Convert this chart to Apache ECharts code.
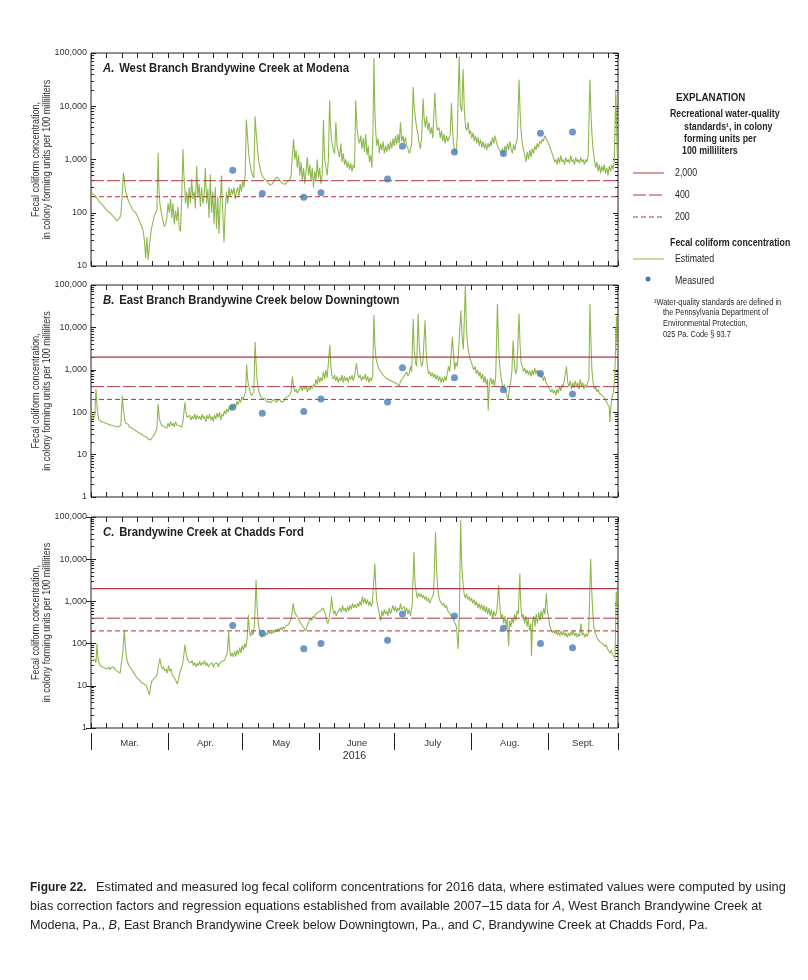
<!DOCTYPE html>
<html><head><meta charset="utf-8">
<script src="https://cdn.jsdelivr.net/npm/echarts@6/dist/echarts.min.js"></script>
<style>html,body{margin:0;padding:0;background:#fff}#c{width:808px;height:980px}</style>
</head><body><div id="c"></div>
<script>
// ---------------- DATA ----------------
// x values are days since 1 March 2016
const monthNames = ['Mar.', 'Apr.', 'May', 'June', 'July', 'Aug.', 'Sept.'];
const monthStartDays = [0, 31, 61, 92, 122, 153, 184];
const monthLengths = [31, 30, 31, 30, 31, 31, 30];
const axisEndDay = 212;
const yearLabel = '2016';
const yTickValues = [1, 10, 100, 1000, 10000, 100000];
const panelLetters = ['A.', 'B.', 'C.'];
const panelTitles = ['West Branch Brandywine Creek at Modena', 'East Branch Brandywine Creek below Downingtown', 'Brandywine Creek at Chadds Ford'];
const yMinValues = [10, 1, 1];
const yMaxValue = 100000;
const standardsA = [400, 200];
const standardsB = [2000, 400, 200];
const standardsC = [2000, 400, 200];
const measuredDays = [57, 68.9, 85.6, 92.5, 119.3, 125.3, 146.2, 165.9, 180.8, 193.7];
const measuredA = [630, 230, 195, 237, 430, 1780, 1380, 1290, 3100, 3300];
const measuredB = [130, 95, 104, 205, 175, 1120, 650, 340, 820, 270];
const measuredC = [270, 175, 75, 100, 120, 500, 450, 230, 100, 80];

const estimatedA = [
[0,260],[0.5,230],[1,245],[1.5,210],[2,200],[2.5,185],[3,175],[3.5,160],[4,150],[4.5,140],[5,145],[5.5,125],[6,120],[6.5,110],[7,115],[7.5,100],[8,95],[8.5,90],[9,85],[9.5,80],[10,75],[10.5,70],[11,68],[11.5,80],[12,90],[12.5,200],[13,560],[13.3,480],[13.7,300],[14,250],[14.5,200],[15,170],[15.5,150],[16,140],[16.5,120],[17,110],[17.5,115],[18,100],[18.5,90],[19,80],[19.5,70],[20,60],[20.5,55],[21,45],[21.5,30],[22,14],[22.5,35],[23,13],[23.5,25],[24,40],[24.5,55],[25,70],[25.5,90],[26,100],[26.5,110],[27,1330],[27.3,300],[27.7,150],[28,120],[28.5,90],[29,70],[29.5,55],[30,60],[30.5,80],[31,150],[31.5,100],[32,180],[32.5,80],[33,150],[33.5,60],[34,110],[34.5,70],[35,130],[35.5,50],[36,45],[36.5,200],[37,1550],[37.3,600],[37.7,300],[38,150],[38.5,250],[39,120],[39.5,300],[40,150],[40.5,430],[41,180],[41.5,250],[42,120],[42.5,750],[43,200],[43.5,350],[44,130],[44.5,300],[45,150],[45.5,200],[46,700],[46.5,150],[47,280],[47.5,80],[48,520],[48.5,100],[49,250],[49.5,60],[50,300],[50.5,50],[51,200],[51.5,40],[52,150],[52.5,500],[53,100],[53.5,28],[54,120],[54.5,250],[55,150],[55.5,300],[56,200],[56.5,280],[57,220],[57.5,300],[58,180],[58.5,250],[59,300],[59.5,200],[60,350],[60.5,250],[61,400],[61.5,300],[62,500],[62.5,5600],[63,2500],[63.5,1200],[64,800],[64.5,600],[65,500],[65.5,450],[66,6500],[66.5,3000],[67,1500],[67.5,900],[68,700],[68.5,550],[69,480],[70,420],[71,380],[72,330],[73,350],[74,430],[75,470],[76,400],[77,360],[78,340],[79,380],[80,420],[80.5,500],[81,1200],[81.5,2400],[82,1000],[82.5,1500],[83,700],[83.5,1200],[84,500],[84.5,900],[85,400],[85.5,700],[86,350],[86.5,600],[87,1100],[87.5,500],[88,800],[88.5,400],[89,700],[89.5,300],[90,600],[90.5,400],[91,1000],[91.5,450],[92,700],[92.5,350],[93,500],[93.5,5500],[94,1000],[94.5,700],[95,500],[95.5,1000],[96,13000],[96.3,5000],[96.7,2500],[97,2000],[97.5,1500],[98,1300],[98.5,5000],[99,1800],[99.5,1400],[100,1100],[100.5,2000],[101,900],[101.5,1300],[102,800],[102.5,1000],[103,700],[103.5,900],[104,650],[104.5,850],[105,600],[105.5,800],[106,700],[106.5,13000],[107,4000],[107.5,2500],[108,2000],[108.5,2800],[109,1600],[109.5,2500],[110,1400],[110.5,3000],[111,1200],[111.5,1800],[112,900],[112.5,1200],[113,700],[113.5,5000],[113.8,80000],[114.2,8000],[114.6,3000],[115,1800],[115.5,2500],[116,1300],[116.5,2000],[117,1500],[117.5,2200],[118,1300],[118.5,1800],[119,1400],[119.5,2000],[120,1500],[120.5,2200],[121,1600],[121.5,2500],[122,1800],[122.5,2800],[123,1900],[123.5,3000],[124,2000],[124.5,5000],[125,2200],[125.5,2800],[126,2000],[126.5,2600],[127,1800],[127.5,1600],[128,1300],[128.5,1500],[129,2000],[129.6,23000],[130,10000],[130.5,6000],[131,4000],[131.5,3000],[132,2000],[132.5,1600],[133,2500],[133.6,14000],[134,6000],[134.5,4000],[135,6500],[135.5,3500],[136,5000],[136.5,3000],[137,4000],[137.5,2500],[138.3,18000],[138.8,6000],[139.3,3500],[140,4000],[140.5,2500],[141,3500],[141.5,2200],[142,3000],[142.5,2000],[143,2800],[143.5,2200],[144,2500],[144.5,3000],[145,11500],[145.4,4000],[145.8,2000],[146.3,1500],[146.8,1300],[147.3,2500],[148.1,86000],[148.6,10000],[149.2,8000],[149.7,50000],[150.2,8000],[150.7,4000],[151.2,3500],[151.7,5000],[152.2,3000],[152.7,3500],[153.2,2500],[153.7,3200],[154.2,2200],[154.7,2800],[155.2,2000],[155.7,2600],[156.2,1800],[156.7,2400],[157.2,1700],[157.7,2200],[158.2,1600],[158.7,2000],[159.2,1500],[159.7,2000],[160.2,1700],[160.7,2200],[161,1800],[161.5,2600],[162,2000],[162.5,2800],[163,2200],[163.5,1800],[165,1300],[165.5,1600],[166,1200],[166.5,1800],[167,1400],[167.5,2000],[168,1500],[168.5,2200],[169,1600],[169.5,1300],[170,1900],[170.5,1500],[171,2000],[171.5,2500],[172.2,31600],[172.6,8000],[173,3500],[173.5,2000],[174,1500],[174.5,1200],[175,900],[175.5,1400],[176,1000],[176.5,1500],[177,1100],[177.5,1600],[178,1300],[178.5,1800],[179,1500],[179.5,2000],[180,1700],[180.5,2200],[181,2000],[181.5,2400],[182,2200],[182.5,2800],[183,2500],[183.5,2300],[184,2000],[184.5,1800],[185,1500],[185.5,1300],[186,1100],[186.5,900],[187,1000],[187.5,800],[188,1100],[188.5,850],[189,1200],[189.5,900],[190,1000],[190.5,800],[191,1100],[191.5,900],[192,1000],[192.5,850],[193,1200],[193.5,900],[194,1000],[194.5,800],[195,1100],[195.5,900],[196,1000],[196.5,850],[197,1100],[197.5,900],[198,1000],[198.5,800],[199,1000],[199.5,900],[200,1200],[200.7,31600],[201.1,8000],[201.5,3000],[202,1500],[202.5,1000],[203,700],[203.5,900],[204,600],[204.5,800],[205,550],[205.5,750],[206,600],[206.5,800],[207,550],[207.5,700],[208,500],[208.5,750],[209,600],[209.5,800],[210,650],[210.5,900],[211.1,20000],[211.7,1200]
];

const estimatedB = [
[0,100],[0.5,80],[1,70],[1.5,80],[2,350],[2.5,120],[3,70],[3.5,65],[4,60],[4.5,62],[5,58],[5.5,60],[6,55],[6.5,57],[7,52],[7.5,55],[8,50],[8.5,52],[9,48],[9.5,50],[10,46],[10.5,48],[11,45],[11.5,44],[12,50],[12.6,245],[13,120],[13.5,70],[14,55],[14.5,50],[15,52],[15.5,45],[16,47],[16.5,42],[17,44],[17.5,38],[18,40],[18.5,35],[19,36],[19.5,32],[20,33],[20.5,30],[21,28],[21.5,27],[22,25],[22.5,26],[23,23],[23.5,24],[24,22],[24.5,25],[25,27],[25.5,30],[26,33],[26.5,40],[27,155],[27.4,80],[27.8,60],[28.3,50],[29,55],[29.5,45],[30,50],[30.5,42],[31,55],[31.5,45],[32,60],[32.5,48],[33,55],[33.5,45],[34,60],[34.5,50],[35,55],[35.5,48],[36,52],[36.5,45],[37,60],[37.8,170],[38.2,100],[38.7,75],[39.2,70],[39.7,85],[40.2,65],[40.7,80],[41.2,70],[41.7,90],[42.2,65],[42.7,85],[43.2,70],[43.7,80],[44.2,65],[44.7,90],[45.2,70],[45.7,80],[46.2,60],[46.7,85],[47.2,70],[47.7,90],[48.2,65],[48.7,80],[49.2,60],[49.7,85],[50.2,70],[50.7,95],[51.2,75],[51.7,100],[52.2,65],[52.7,90],[53.2,80],[53.7,110],[54.2,90],[54.7,120],[55.2,100],[55.7,140],[56.2,110],[56.7,150],[57.2,120],[57.7,160],[58.2,130],[58.7,180],[59.2,150],[59.7,200],[60.2,170],[60.7,230],[61.2,200],[61.7,250],[62.2,300],[62.6,1330],[63,600],[63.5,400],[64,300],[64.5,250],[65,270],[65.5,300],[66,4600],[66.4,1500],[66.8,600],[67.3,350],[68,250],[68.5,220],[69,200],[70,210],[70.5,180],[71,200],[71.5,175],[72,195],[72.5,170],[73,190],[73.5,175],[74,200],[74.5,170],[75,190],[75.5,180],[76,200],[76.5,175],[77,195],[77.5,180],[78,210],[78.5,190],[79,230],[79.5,210],[80,260],[80.5,300],[81,700],[81.5,400],[82,300],[82.5,350],[83,280],[83.5,330],[84,300],[84.5,380],[85,320],[85.5,400],[86,350],[86.5,420],[87,300],[87.5,380],[88,330],[88.5,420],[89,360],[89.5,450],[90,400],[90.5,600],[91,450],[91.5,700],[92,500],[92.5,650],[93,550],[93.5,900],[94,600],[94.5,1000],[95,650],[95.5,700],[96.1,3900],[96.5,1200],[97,700],[97.5,600],[98,750],[98.5,550],[99,700],[99.5,500],[100,650],[100.5,550],[101,750],[101.5,500],[102,700],[102.5,550],[103,650],[103.5,500],[104,700],[104.5,600],[105,750],[105.5,550],[106,700],[106.8,1450],[107.3,800],[107.8,650],[108.3,750],[108.8,550],[109.3,700],[109.8,600],[110.3,800],[110.8,550],[111.3,700],[111.8,500],[112.3,650],[112.8,550],[113.3,700],[113.8,19500],[114.2,4000],[114.6,2000],[115,1500],[115.5,1200],[116,1000],[116.5,900],[117,850],[117.5,750],[118,800],[118.5,650],[119,700],[119.5,600],[123.5,450],[124,400],[124.5,550],[125,500],[125.5,650],[126,600],[126.5,800],[127,900],[127.5,700],[128,800],[128.5,1200],[129,900],[129.6,16000],[130,3000],[130.5,1500],[131,1200],[131.6,21000],[132,4000],[132.5,1800],[133,1200],[133.5,1500],[134.4,14800],[134.8,3000],[135.3,1200],[135.8,800],[136.3,900],[136.8,700],[137.3,850],[137.8,650],[138.3,800],[138.8,600],[139.3,750],[139.8,550],[140.3,700],[140.8,500],[141.3,650],[141.8,500],[142.3,700],[142.8,550],[143.3,800],[143.8,1200],[144.3,900],[144.8,2000],[145.4,6000],[145.8,2500],[146.3,1000],[146.8,1500],[147.3,1200],[147.8,2500],[148.8,25000],[149.3,6000],[149.8,3000],[150.6,100000],[151,10000],[151.5,4000],[152,2500],[152.5,1800],[153,1500],[153.5,1200],[154,1000],[154.5,1200],[155,800],[155.5,1000],[156,700],[156.5,900],[157,600],[157.5,800],[158,500],[158.5,700],[159,450],[159.5,600],[159.8,110],[160.3,500],[160.8,650],[161.3,450],[161.8,600],[162.3,400],[162.8,700],[163.5,36000],[163.9,5000],[164.3,1500],[164.8,800],[165.3,500],[165.8,350],[166.3,450],[166.8,300],[167.3,250],[167.8,200],[168.3,350],[168.8,500],[169.3,900],[169.8,5000],[170.3,1500],[170.8,800],[171.3,1000],[171.8,900],[172.2,21000],[172.6,4000],[173,1500],[173.5,1200],[174,900],[174.5,1100],[175,800],[175.5,1000],[176,750],[176.5,950],[177,700],[177.5,1000],[178,750],[178.5,1100],[179,800],[179.5,1000],[180,700],[180.5,900],[181,650],[181.5,800],[182,550],[182.5,700],[183,500],[183.5,450],[184,400],[184.5,350],[185,300],[185.5,350],[186,280],[186.5,330],[187,250],[187.5,350],[188,280],[188.5,400],[189,320],[189.5,450],[190,400],[190.5,600],[191.3,1200],[191.8,500],[192.3,400],[192.8,550],[193.3,350],[193.8,500],[194.3,380],[194.8,550],[195.3,400],[195.8,500],[196.3,350],[196.8,600],[197.3,400],[197.8,500],[198.3,350],[198.8,450],[199.3,380],[199.8,500],[200.3,600],[200.7,36000],[201.1,5000],[201.5,1000],[202,500],[202.5,350],[203,400],[203.5,300],[204,350],[204.5,280],[205,300],[205.5,250],[206,260],[206.5,220],[207,200],[207.5,170],[208,160],[208.5,130],[208.7,58],[209.2,150],[209.7,250],[210.2,300],[210.7,700],[211.4,18000],[211.8,2000]
];

const estimatedC = [
[0,45],[0.5,40],[1,38],[1.5,42],[2,35],[2.4,100],[2.8,45],[3.2,35],[3.7,30],[4.2,32],[4.7,28],[5.2,30],[5.7,26],[6.2,28],[6.7,25],[7.2,28],[7.7,24],[8.2,27],[8.7,25],[9.2,28],[9.7,24],[10.2,26],[10.7,22],[11.2,24],[11.7,20],[12.2,22],[12.8,60],[13.4,210],[13.8,90],[14.3,45],[14.8,35],[15.3,30],[15.8,28],[16.3,25],[16.8,22],[17.3,20],[17.8,18],[18.3,16],[18.8,15],[19.3,14],[19.8,13],[20.3,12],[20.8,13],[21.3,11],[21.8,12],[22.3,10],[22.8,11],[23.5,6],[24,10],[24.5,13],[25,12],[25.5,15],[26,14],[26.5,18],[27,20],[27.7,45],[28.2,30],[28.7,25],[29.2,28],[29.7,22],[30.2,25],[30.7,20],[31.2,30],[31.7,22],[32.2,25],[32.7,18],[33.2,20],[33.7,15],[34.2,13],[34.7,11],[35.2,14],[35.7,20],[36.2,25],[36.7,30],[37.2,45],[37.8,95],[38.2,60],[38.7,45],[39.2,38],[39.7,42],[40.2,35],[40.7,40],[41.2,30],[41.7,36],[42.2,28],[42.7,34],[43.2,30],[43.7,38],[44.2,30],[44.7,36],[45.2,32],[45.7,40],[46.2,30],[46.7,35],[47.2,28],[47.7,32],[48.2,30],[48.7,35],[49.2,28],[49.7,33],[50.2,30],[50.7,35],[51.2,28],[51.7,34],[52.2,32],[52.7,38],[53.2,35],[53.7,40],[54.2,38],[54.8,60],[55.4,190],[55.8,70],[56.3,50],[56.8,60],[57.3,48],[57.8,65],[58.3,50],[58.8,70],[59.3,55],[59.8,80],[60.3,60],[60.8,90],[61.3,70],[61.8,100],[62.3,80],[62.8,130],[63.3,480],[63.7,200],[64.2,150],[64.7,200],[65.2,160],[65.8,300],[66.4,3200],[66.8,800],[67.3,300],[67.8,200],[68.3,160],[68.8,140],[69.3,170],[69.8,150],[70.3,180],[70.8,160],[71.3,200],[71.8,170],[72.3,190],[72.8,170],[73.3,210],[73.8,180],[74.3,220],[74.8,190],[75.3,230],[75.8,200],[76.3,240],[76.8,210],[77.3,250],[77.8,220],[78.3,260],[78.8,240],[79.3,280],[79.8,300],[80.3,350],[80.8,500],[81.3,900],[81.8,600],[82.3,500],[82.8,450],[83.3,400],[83.8,350],[84.3,320],[84.8,280],[85.3,250],[85.8,230],[86.3,200],[86.8,220],[87.3,300],[87.8,350],[88.3,400],[88.8,350],[89.3,450],[89.8,400],[90.3,500],[90.8,450],[91.3,550],[91.8,500],[92.3,600],[92.8,550],[93.3,700],[93.8,600],[94.3,500],[94.8,350],[95.3,300],[95.8,400],[96.3,600],[96.8,1300],[97.2,700],[97.7,500],[98.2,600],[98.7,450],[99.2,550],[99.7,500],[100.2,700],[100.7,550],[101.2,800],[101.7,600],[102.2,700],[102.7,550],[103.2,750],[103.7,600],[104.2,800],[104.7,650],[105.2,900],[105.7,700],[106.2,850],[106.7,700],[107.2,900],[107.7,750],[108.2,1000],[108.7,800],[109.2,1300],[109.7,900],[110.2,1200],[110.7,850],[111.2,1100],[111.7,800],[112.2,1000],[112.7,750],[113.2,900],[113.7,1000],[114.2,7900],[114.6,2000],[115,1000],[115.5,700],[116,500],[116.5,350],[117,600],[117.5,450],[118,650],[118.5,500],[119,600],[119.5,450],[120,700],[120.5,500],[121,650],[121.5,800],[122,600],[122.5,750],[123,550],[123.5,700],[124,600],[124.5,900],[125,650],[125.5,600],[126,750],[126.5,550],[127,700],[127.5,500],[128,650],[128.5,450],[129.2,800],[129.9,15000],[130.3,3000],[130.8,1700],[131.3,1200],[131.8,1600],[132.3,1300],[132.8,1500],[133.3,1200],[133.8,1400],[134.3,1100],[134.8,1300],[135.3,1000],[135.8,1200],[136.3,900],[136.8,1100],[137.3,1000],[137.8,1500],[138.6,44000],[139,6000],[139.5,2000],[140,1200],[140.5,1000],[141,1100],[141.5,800],[142,900],[142.5,700],[143,800],[143.5,600],[144,650],[144.5,500],[145,450],[145.5,400],[146,350],[146.5,300],[147,250],[147.7,75],[148.2,500],[148.7,84000],[149.1,8000],[149.6,3000],[150.1,1500],[150.6,1200],[151.1,1500],[151.6,1100],[152.1,1300],[152.6,1000],[153.1,1200],[153.6,900],[154.1,1100],[154.6,800],[155.1,1000],[155.6,700],[156.1,900],[156.6,650],[157.1,850],[157.6,600],[158.1,800],[158.6,550],[159.1,750],[159.6,500],[160.1,700],[160.6,450],[161.1,650],[161.6,400],[162.1,600],[162.6,450],[163.2,550],[164,2400],[164.5,700],[165,400],[165.5,500],[166,300],[166.5,450],[167,250],[167.5,400],[168,85],[168.4,350],[168.9,250],[169.4,400],[169.9,300],[170.4,500],[170.9,350],[171.4,600],[171.9,500],[172.5,4600],[172.9,800],[173.4,400],[173.9,500],[174.4,300],[174.9,450],[175.4,250],[175.9,400],[176.4,200],[176.9,300],[177.2,50],[177.6,300],[178.1,450],[178.6,250],[179.1,500],[179.6,300],[180.1,550],[180.6,350],[181.1,600],[181.6,400],[182.1,700],[182.6,500],[183.2,1550],[183.6,600],[184.1,400],[184.6,250],[185.1,220],[185.6,180],[186.1,210],[186.6,170],[187.1,200],[187.6,160],[188.1,190],[188.6,150],[189.1,200],[189.6,160],[190.1,190],[190.6,150],[191.1,180],[191.6,140],[192.1,180],[192.6,150],[193.1,190],[193.6,160],[194.1,200],[194.6,150],[195.1,180],[195.6,140],[196.1,170],[196.6,150],[197.1,300],[197.6,160],[198.1,180],[198.6,140],[199.1,170],[199.6,150],[200.2,180],[201,10300],[201.4,2000],[201.8,600],[202.3,250],[202.8,180],[203.3,150],[203.8,130],[204.3,140],[204.8,110],[205.3,120],[205.8,100],[206.3,110],[206.8,85],[207.3,95],[207.8,75],[208.3,80],[208.8,60],[209.3,70],[209.8,55],[210.3,60],[210.8,45],[211.3,1700],[211.7,800]
];

// ---------------- STYLE / LAYOUT ----------------
const FONT = '"Liberation Sans",Arial,sans-serif';
const GREEN = '#8fb94f';
const BLUE = '#4a7db8';
const RED = '#b0353f';
const INK = '#231f20';
const gridBoxes = [{top: 53, height: 213}, {top: 285, height: 212}, {top: 517, height: 211}];
const stdStyle = {
  2000: {type: 'solid', width: 1.2},
  400: {type: [13, 3], width: 1},
  200: {type: [5, 3], width: 1}
};

const estimated = [estimatedA, estimatedB, estimatedC];
const measured = [measuredA, measuredB, measuredC];
const standards = [standardsA, standardsB, standardsC];

// tick positions (derived)
const minorXTicks = [];
monthStartDays.forEach((s, i) => {
  for (let k = 0; k < 5; k++) {
    const d = s + k * monthLengths[i] / 5;
    if (d <= axisEndDay) minorXTicks.push(d);
  }
});
minorXTicks.push(axisEndDay);
const monthBoundaries = monthStartDays.concat([axisEndDay]);
const monthMids = monthStartDays.map((s, i) => (s + Math.min(s + monthLengths[i], axisEndDay)) / 2);
const yMinorTicks = [];
for (let k = 0; k < 5; k++) for (let m = 2; m <= 9; m++) yMinorTicks.push(m * Math.pow(10, k));

const fmtNum = v => Math.round(v).toLocaleString('en-US');

const grid = [], xAxis = [], yAxis = [], series = [], graphic = [];

// text helper: horizontally condensed text (the original uses a condensed face)
const txt = (x, y, text, style, sx, extra) => graphic.push(Object.assign({type: 'text', x: x, y: y, scaleX: sx || 1, silent: true,
  style: Object.assign({text: text, fontFamily: FONT, fontSize: 10, fill: INK, verticalAlign: 'middle'}, style || {})}, extra || {}));

gridBoxes.forEach((g, p) => {
  grid.push({left: 91, width: 527, top: g.top, height: g.height, show: true,
    borderColor: INK, borderWidth: 1, backgroundColor: 'transparent'});
  const baseX = {type: 'value', gridIndex: p, min: 0, max: axisEndDay,
    axisLine: {show: false}, splitLine: {show: false}, axisLabel: {show: false},
    axisTick: {show: true, inside: true, length: 5, customValues: minorXTicks, lineStyle: {color: INK, width: 1}}};
  const xi = xAxis.length;
  xAxis.push(Object.assign({}, baseX, {position: 'bottom'}));
  xAxis.push(Object.assign({}, baseX, {position: 'top'}));
  if (p === 2) {
    xAxis.push({type: 'value', gridIndex: p, min: 0, max: axisEndDay, position: 'bottom', offset: 5,
      axisLine: {show: false}, splitLine: {show: false},
      axisTick: {show: true, inside: false, length: 17, customValues: monthBoundaries, lineStyle: {color: INK, width: 1}},
      axisLabel: {show: true, margin: 5, customValues: monthMids, fontFamily: FONT, fontSize: 9.5, color: '#333',
        formatter: v => { const i = monthMids.findIndex(m => Math.abs(m - v) < 1e-6); return i >= 0 ? monthNames[i] : ''; }},
      name: yearLabel, nameLocation: 'middle', nameGap: 18,
      nameTextStyle: {fontFamily: FONT, fontSize: 10.5, color: '#333'}});
  }
  const ymin = yMinValues[p];
  const majors = yTickValues.filter(v => v >= ymin && v <= yMaxValue);
  const minors = yMinorTicks.filter(v => v > ymin && v < yMaxValue);
  const baseY = {type: 'log', logBase: 10, gridIndex: p, min: ymin, max: yMaxValue,
    axisLine: {show: false}, splitLine: {show: false}, minorTick: {show: false}};
  const yi = yAxis.length;
  yAxis.push(Object.assign({}, baseY, {position: 'left',
    axisTick: {show: true, inside: true, length: 5, customValues: majors, lineStyle: {color: INK}},
    axisLabel: {show: true, margin: 4, customValues: majors, formatter: fmtNum, fontFamily: FONT, fontSize: 9, color: '#333'}}));
  yAxis.push(Object.assign({}, baseY, {position: 'left',
    axisTick: {show: true, inside: true, length: 3, customValues: minors, lineStyle: {color: INK}},
    axisLabel: {show: false}}));
  yAxis.push(Object.assign({}, baseY, {position: 'right',
    axisTick: {show: true, inside: true, length: 5, customValues: majors, lineStyle: {color: INK}},
    axisLabel: {show: false}}));
  yAxis.push(Object.assign({}, baseY, {position: 'right',
    axisTick: {show: true, inside: true, length: 3, customValues: minors, lineStyle: {color: INK}},
    axisLabel: {show: false}}));

  series.push({type: 'line', xAxisIndex: xi, yAxisIndex: yi, data: estimated[p],
    showSymbol: false, symbol: 'none', smooth: false, silent: true,
    lineStyle: {color: GREEN, width: 1.1}, z: 2});
  // recreational water-quality standards: horizontal lines spanning the axis
  standards[p].forEach(v => {
    const st = stdStyle[v];
    series.push({type: 'line', xAxisIndex: xi, yAxisIndex: yi, data: [[0, v], [axisEndDay, v]],
      showSymbol: false, symbol: 'none', silent: true, z: 3,
      lineStyle: {color: RED, width: st.width, type: st.type, opacity: 1}});
  });
  series.push({type: 'scatter', xAxisIndex: xi, yAxisIndex: yi,
    data: measuredDays.map((d, i) => [d, measured[p][i]]),
    symbol: 'circle', symbolSize: 7, itemStyle: {color: BLUE}, z: 5, silent: true});

  // panel title
  txt(103, g.top + 15, '{i|' + panelLetters[p] + '}  {b|' + panelTitles[p] + '}', {
      rich: {i: {fontFamily: FONT, fontSize: 13, fontWeight: 'bold', fontStyle: 'italic', fill: INK},
             b: {fontFamily: FONT, fontSize: 13, fontWeight: 'bold', fill: INK}}}, 0.87);
  // y axis name (rotated, condensed along its length)
  txt(42, g.top + g.height / 2, 'Fecal coliform concentration,\nin colony forming units per 100 milliliters',
    {fontSize: 10, lineHeight: 11, fill: '#333', align: 'center'}, 0.9, {rotation: Math.PI / 2});
});

// ----- explanation (legend) -----
const LS = 0.88;
txt(676, 98, 'EXPLANATION', {fontWeight: 'bold', fontSize: 11.5}, 0.85);
txt(670, 114, 'Recreational water-quality', {fontWeight: 'bold'}, LS);
txt(684, 127, 'standards\u00B9, in colony', {fontWeight: 'bold'}, LS);
txt(684, 139, 'forming units per', {fontWeight: 'bold'}, LS);
txt(682, 151, '100 milliliters', {fontWeight: 'bold'}, LS);
const legLines = [[2000, 173], [400, 195], [200, 217]];
legLines.forEach(([v, y]) => {
  const st = stdStyle[v];
  graphic.push({type: 'line', silent: true, shape: {x1: 633, y1: y, x2: 664, y2: y},
    style: {stroke: RED, lineWidth: 1, lineDash: st.type === 'solid' ? null : st.type}});
  txt(675, y, fmtNum(v), {}, LS);
});
txt(670, 243, 'Fecal coliform concentration', {fontWeight: 'bold'}, LS);
graphic.push({type: 'line', silent: true, shape: {x1: 633, y1: 259, x2: 664, y2: 259}, style: {stroke: GREEN, lineWidth: 1}});
txt(675, 259, 'Estimated', {}, LS);
graphic.push({type: 'circle', silent: true, shape: {cx: 648, cy: 279, r: 2.5}, style: {fill: BLUE}});
txt(675, 281, 'Measured', {}, LS);
const FS = 0.87;
txt(654, 303, '\u00B9Water-quality standards are defined in', {fontSize: 8.5}, FS);
txt(663, 313, 'the Pennsylvania Department of', {fontSize: 8.5}, FS);
txt(663, 324, 'Environmental Protection,', {fontSize: 8.5}, FS);
txt(663, 335, '025 Pa. Code \u00A7 93.7', {fontSize: 8.5}, FS);

// ----- caption -----
const capRich = {n: {fontFamily: FONT, fontSize: 13, fill: INK},
                 i: {fontFamily: FONT, fontSize: 13, fontStyle: 'italic', fill: INK}};
txt(30, 887, 'Figure 22.', {fontSize: 13, fontWeight: 'bold'}, 0.92);
txt(96, 887, '{n|Estimated and measured log fecal coliform concentrations for 2016 data, where estimated values were computed by using}', {rich: capRich}, 0.982);
txt(30, 906, '{n|bias correction factors and regression equations established from available 2007\u201315 data for }{i|A}{n|, West Branch Brandywine Creek at}', {rich: capRich}, 0.975);
txt(30, 925, '{n|Modena, Pa., }{i|B}{n|, East Branch Brandywine Creek below Downingtown, Pa., and }{i|C}{n|, Brandywine Creek at Chadds Ford, Pa.}', {rich: capRich}, 0.97);

const chart = echarts.init(document.getElementById('c'), null, {renderer: 'canvas'});
chart.setOption({animation: false, backgroundColor: '#fff', grid, xAxis, yAxis, series, graphic});
</script></body></html>
